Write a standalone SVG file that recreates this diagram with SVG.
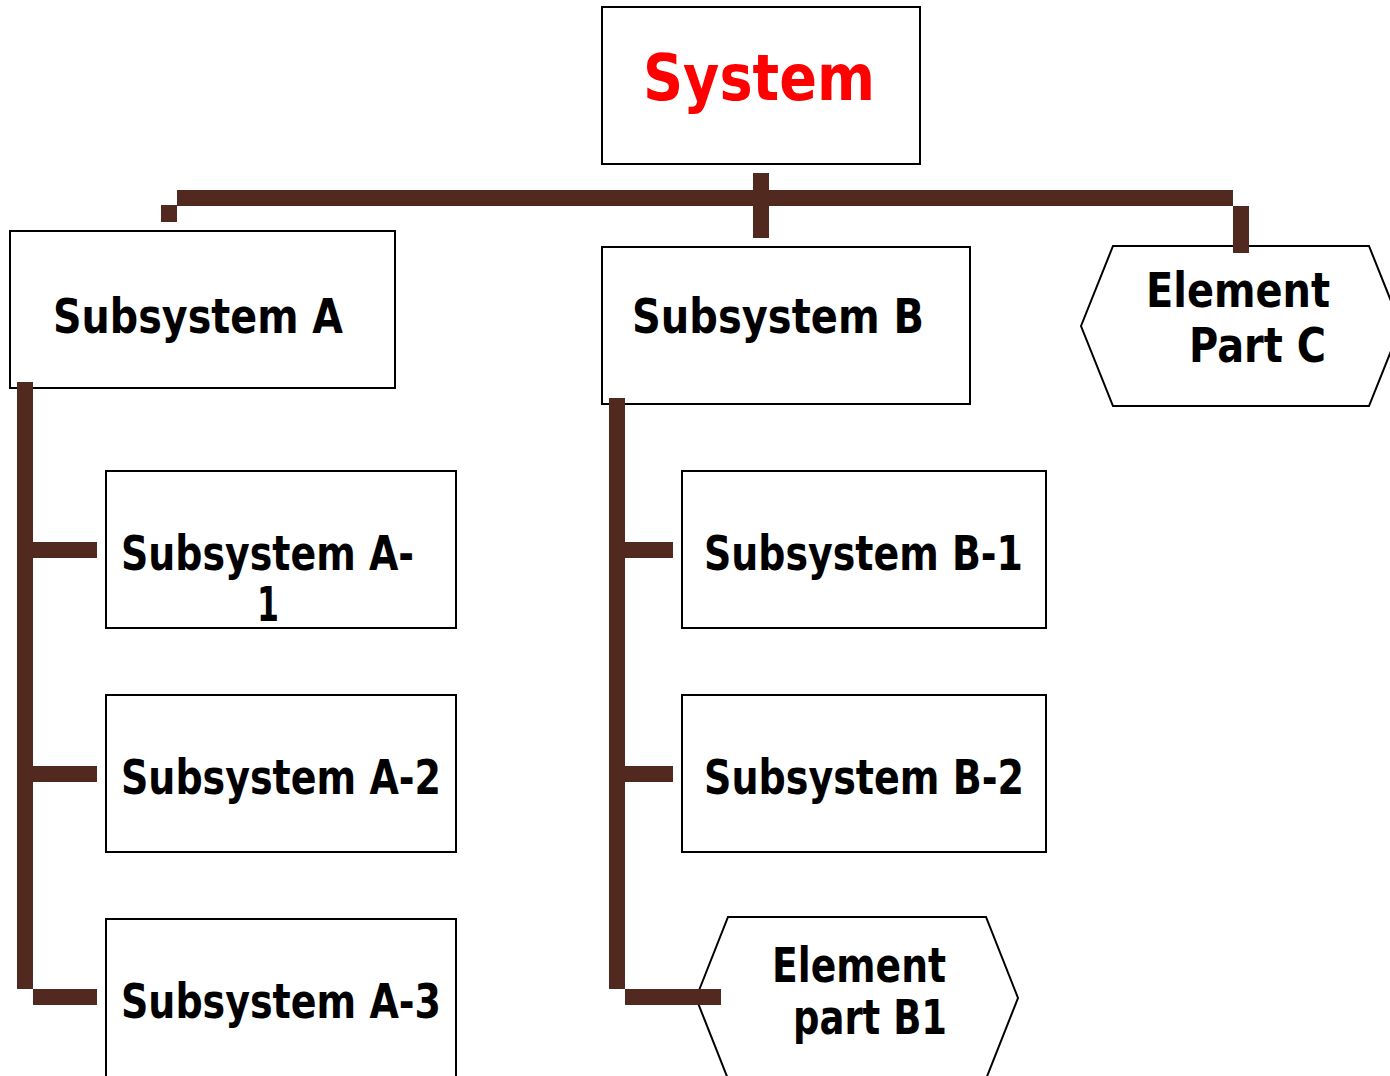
<svg xmlns="http://www.w3.org/2000/svg" width="1390" height="1076" viewBox="0 0 1390 1076">
<style>
.box{fill:#fff;stroke:#000;stroke-width:2}
.hex{fill:#fff;stroke:#000;stroke-width:2}
.t{font-family:"DejaVu Sans","Verdana",sans-serif;font-weight:bold;font-size:48px;fill:#000}
.sys{font-family:"DejaVu Sans","Verdana",sans-serif;font-weight:bold;font-size:64px;fill:#ff0000}
.c{fill:#52291f}
</style>
<rect width="1390" height="1076" fill="#fff"/>
<g id="system"><rect class="box" x="602" y="7" width="318" height="157"/><text class="sys" x="643" y="100" textLength="232" lengthAdjust="spacingAndGlyphs">System</text></g>
<g id="subA"><rect class="box" x="10" y="231" width="385" height="157"/><text class="t" x="53" y="333" textLength="290" lengthAdjust="spacingAndGlyphs">Subsystem A</text></g>
<g id="subB"><rect class="box" x="602" y="247" width="368" height="157"/><text class="t" x="632" y="333" textLength="292" lengthAdjust="spacingAndGlyphs">Subsystem B</text></g>
<g id="elemC"><polygon class="hex" points="1081,326 1113,246 1369,246 1401,326 1369,406 1113,406"/><text class="t" x="1146" y="307" textLength="184" lengthAdjust="spacingAndGlyphs">Element</text><text class="t" x="1189" y="362" textLength="137" lengthAdjust="spacingAndGlyphs">Part C</text></g>
<g id="subA1"><rect class="box" x="106" y="471" width="350" height="157"/><text class="t" x="121" y="570" textLength="293" lengthAdjust="spacingAndGlyphs">Subsystem A-</text><text class="t" x="257" y="621" textLength="22" lengthAdjust="spacingAndGlyphs">1</text></g>
<g id="subA2"><rect class="box" x="106" y="695" width="350" height="157"/><text class="t" x="121" y="794" textLength="320" lengthAdjust="spacingAndGlyphs">Subsystem A-2</text></g>
<g id="subA3"><rect class="box" x="106" y="919" width="350" height="160"/><text class="t" x="121" y="1018" textLength="320" lengthAdjust="spacingAndGlyphs">Subsystem A-3</text></g>
<g id="subB1"><rect class="box" x="682" y="471" width="364" height="157"/><text class="t" x="704" y="570" textLength="319" lengthAdjust="spacingAndGlyphs">Subsystem B-1</text></g>
<g id="subB2"><rect class="box" x="682" y="695" width="364" height="157"/><text class="t" x="704" y="794" textLength="320" lengthAdjust="spacingAndGlyphs">Subsystem B-2</text></g>
<g id="elemB1"><polygon class="hex" points="696,998 728,917 986,917 1018,998 986,1079 728,1079"/><text class="t" x="772" y="982" textLength="174" lengthAdjust="spacingAndGlyphs">Element</text><text class="t" x="793" y="1034" textLength="154" lengthAdjust="spacingAndGlyphs">part B1</text></g>
<g id="connectors">
<rect class="c" x="177" y="190" width="1056" height="16"/>
<rect class="c" x="161" y="205" width="16" height="17"/>
<rect class="c" x="753" y="173" width="16" height="65"/>
<rect class="c" x="1233" y="206" width="16" height="47"/>
<rect class="c" x="17" y="382" width="16" height="607"/>
<rect class="c" x="33" y="542" width="64" height="16"/>
<rect class="c" x="33" y="766" width="64" height="16"/>
<rect class="c" x="33" y="989" width="64" height="16"/>
<rect class="c" x="609" y="398" width="16" height="591"/>
<rect class="c" x="625" y="542" width="48" height="16"/>
<rect class="c" x="625" y="766" width="48" height="16"/>
<rect class="c" x="625" y="989" width="96" height="16"/>
</g>
</svg>
